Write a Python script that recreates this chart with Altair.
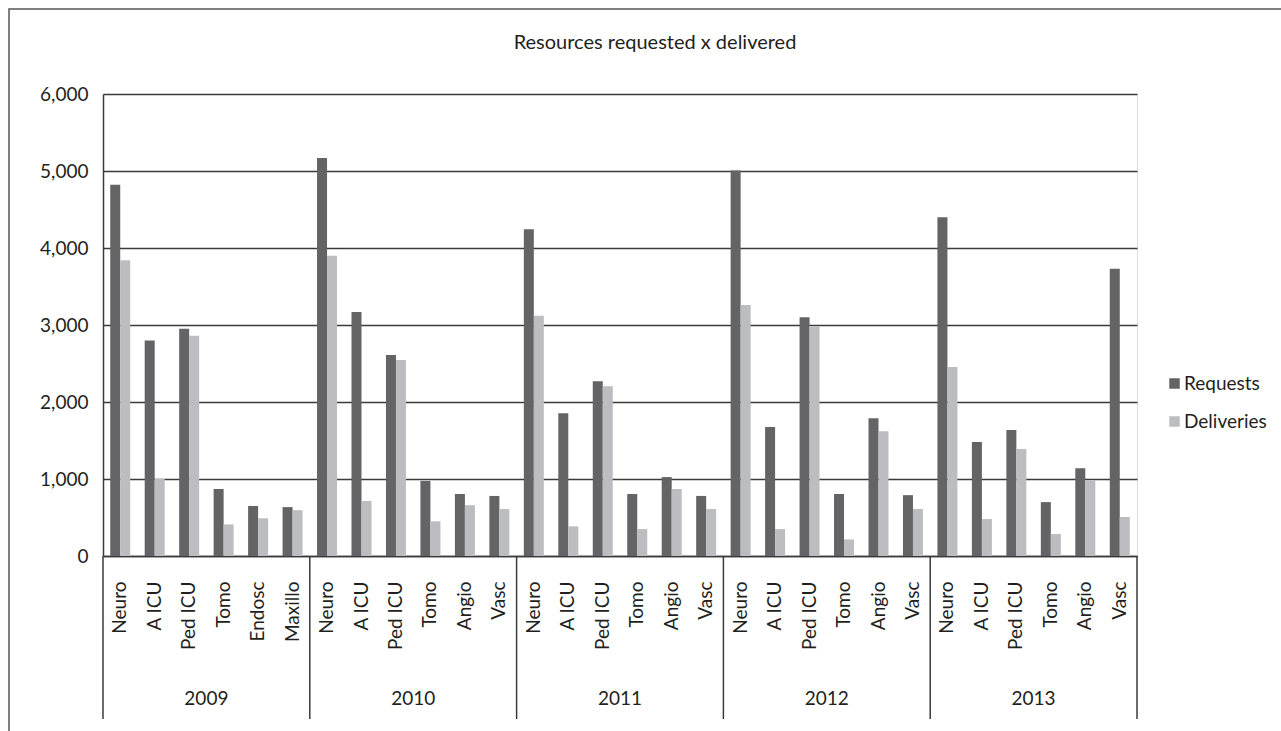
import altair as alt
import pandas as pd

# ---------------- data ----------------
years = ["2009", "2010", "2011", "2012", "2013"]
units = [
    ["Neuro", "A ICU", "Ped ICU", "Tomo", "Endosc", "Maxillo"],
    ["Neuro", "A ICU", "Ped ICU", "Tomo", "Angio", "Vasc"],
    ["Neuro", "A ICU", "Ped ICU", "Tomo", "Angio", "Vasc"],
    ["Neuro", "A ICU", "Ped ICU", "Tomo", "Angio", "Vasc"],
    ["Neuro", "A ICU", "Ped ICU", "Tomo", "Angio", "Vasc"],
]
requests = [
    4820, 2800, 2950, 870, 650, 635,
    5170, 3170, 2610, 975, 805, 780,
    4245, 1855, 2270, 805, 1025, 780,
    5005, 1675, 3100, 805, 1790, 790,
    4400, 1480, 1635, 700, 1140, 3730,
]
deliveries = [
    3840, 1000, 2860, 410, 490, 595,
    3900, 715, 2545, 450, 660, 610,
    3120, 385, 2205, 350, 870, 610,
    3260, 350, 2980, 215, 1620, 610,
    2455, 480, 1390, 285, 985, 505,
]
series = ["Requests", "Deliveries"]
colors = ["#646466", "#bcbdc0"]
y_ticks = [0, 1000, 2000, 3000, 4000, 5000, 6000]
title_text = "Resources requested x delivered"

# ---------------- tables ----------------
keys = []
rows = []
for yi, yr in enumerate(years):
    for ui, u in enumerate(units[yi]):
        k = f"{yr}|{u}"
        keys.append(k)
        i = yi * 6 + ui
        rows.append({"key": k, "series": "Requests", "value": requests[i]})
        rows.append({"key": k, "series": "Deliveries", "value": deliveries[i]})
df = pd.DataFrame(rows)

sep_df = pd.DataFrame({"key": [keys[yi * 6] for yi in range(len(years))]})
end_df = pd.DataFrame({"key": [keys[-1]]})
year_df = pd.DataFrame({"key": [keys[yi * 6 + 3] for yi in range(len(years))], "year": years})
title_df = pd.DataFrame({"t": [title_text]})

FONT = "Lato"
TXT = "#231f20"
LINE = "#3a3a3a"
W, H = 1034, 462

xscale = alt.Scale(domain=keys, paddingInner=0, paddingOuter=0)
xaxis = alt.Axis(
    title=None,
    labelExpr="split(datum.value, '|')[1]",
    labelAngle=270,
    labelAlign="right",
    labelBaseline="middle",
    labelPadding=25,
    ticks=False,
    tickSize=0,
    domain=True,
    domainColor=LINE,
    domainWidth=1.5,
    labelFontSize=19,
    labelFont=FONT,
    labelColor=TXT,
    labelOverlap=False,
    grid=False,
)

bars = alt.Chart(df).mark_bar().encode(
    x=alt.X("key:N", sort=keys, scale=xscale, axis=xaxis),
    xOffset=alt.XOffset(
        "series:N",
        sort=series,
        scale=alt.Scale(domain=series, paddingInner=0, paddingOuter=0.7235),
    ),
    y=alt.Y(
        "value:Q",
        scale=alt.Scale(domain=[0, 6000], nice=False),
        axis=alt.Axis(
            title=None,
            values=y_ticks,
            format=",.0f",
            ticks=False,
            domain=True,
            domainColor=LINE,
            domainWidth=1.5,
            grid=True,
            gridColor=LINE,
            gridWidth=1.5,
            labelPadding=15,
            labelFontSize=19,
            labelFont=FONT,
            labelColor=TXT,
        ),
    ),
    color=alt.Color(
        "series:N",
        sort=series,
        scale=alt.Scale(domain=series, range=colors),
        legend=alt.Legend(
            title=None,
            orient="none",
            legendX=1062,
            legendY=280,
            symbolType="square",
            symbolSize=110,
            symbolStrokeWidth=0,
            labelFontSize=19,
            labelFont=FONT,
            labelColor=TXT,
            labelOffset=0,
            rowPadding=18,
        ),
    ),
)

seps = alt.Chart(sep_df).mark_rule(color=LINE, strokeWidth=1.5).encode(
    x=alt.X("key:N", sort=keys, scale=xscale, bandPosition=0, axis=xaxis),
    y=alt.value(H),
    y2=alt.value(625),
)
end_sep = alt.Chart(end_df).mark_rule(color=LINE, strokeWidth=1.5).encode(
    x=alt.X("key:N", sort=keys, scale=xscale, bandPosition=1, axis=xaxis),
    y=alt.value(H),
    y2=alt.value(625),
)
year_labels = alt.Chart(year_df).mark_text(
    font=FONT, fontSize=19, color=TXT, align="center", baseline="middle"
).encode(
    x=alt.X("key:N", sort=keys, scale=xscale, bandPosition=0, axis=xaxis),
    y=alt.value(605),
    text="year:N",
)
title = alt.Chart(title_df).mark_text(
    font=FONT, fontSize=20, color=TXT, align="center", baseline="middle"
).encode(
    x=alt.value(552),
    y=alt.value(-51),
    text="t:N",
)
border = alt.Chart(title_df).mark_rect(
    fillOpacity=0, stroke="#555555", strokeWidth=1.5
).encode(
    x=alt.value(-94),
    x2=alt.value(1300),
    y=alt.value(-85),
    y2=alt.value(700),
)

chart = alt.layer(border, bars, seps, end_sep, year_labels, title).properties(
    width=W,
    height=H,
    autosize=alt.AutoSizeParams(type="none"),
    padding={"left": 103, "top": 94, "right": 144, "bottom": 175},
).configure_view(stroke=None).configure(background="white")

chart.save("out.html", embed_options={"renderer": "svg", "actions": False})
